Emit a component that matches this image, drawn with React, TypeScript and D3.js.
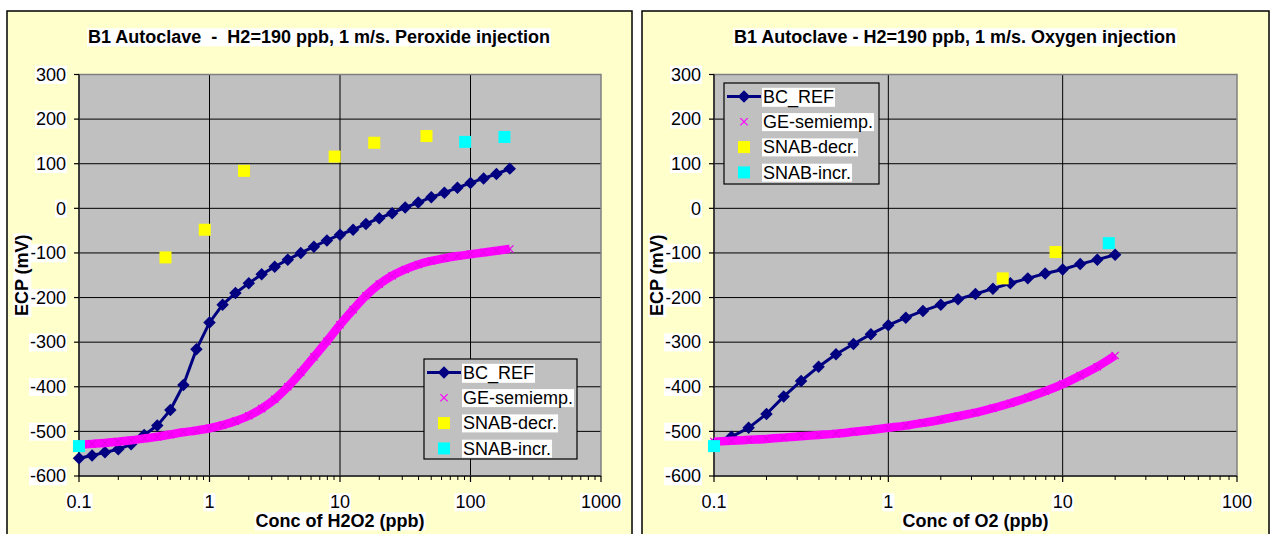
import React, { useEffect, useRef } from 'react';
import * as d3 from 'd3';

// ---------- data ----------
const yTicks = [300, 200, 100, 0, -100, -200, -300, -400, -500, -600];
const h2o2TickLabels = [0.1, 1, 10, 100, 1000];
const o2TickLabels = [0.1, 1, 10, 100];
const seriesNames = ['BC_REF', 'GE-semiemp.', 'SNAB-decr.', 'SNAB-incr.'];

const h2o2Conc = [0.1, 0.126, 0.158, 0.2, 0.251, 0.316, 0.398, 0.501, 0.631, 0.794, 1, 1.26, 1.58, 2, 2.51, 3.16, 3.98, 5.01, 6.31, 7.94, 10, 12.6, 15.8, 20, 25.1, 31.6, 39.8, 50.1, 63.1, 79.4, 100, 126, 158, 200];
const h2o2BcRef = [-560, -554, -547, -540, -529, -508, -487, -452, -396, -316, -256, -216, -190, -168, -148, -131, -115, -100, -86, -72, -59, -48, -35, -22, -11, 2, 13, 25, 35, 46, 57, 67, 77, 89];
const h2o2Ge = [-530, -528, -526, -523, -520, -516, -512, -507, -502, -498, -493, -486, -477, -465, -449, -428, -400, -368, -333, -298, -261, -227, -196, -170, -151, -137, -126, -118, -112, -107, -103, -99, -95, -91];
const h2o2DecrX = [0.46, 0.92, 1.84, 9.1, 18.3, 46];
const h2o2DecrY = [-110, -48, 84, 116, 147, 162];
const h2o2IncrX = [0.1, 91, 182];
const h2o2IncrY = [-533, 149, 160];

const o2Conc = [0.1, 0.126, 0.158, 0.2, 0.251, 0.316, 0.398, 0.501, 0.631, 0.794, 1, 1.26, 1.58, 2, 2.51, 3.16, 3.98, 5.01, 6.31, 7.94, 10, 12.6, 15.8, 20];
const o2BcRef = [-528, -512, -492, -461, -422, -387, -355, -327, -304, -282, -262, -245, -230, -216, -204, -192, -180, -168, -157, -146, -137, -125, -115, -104];
const o2Ge = [-523, -521, -519, -517, -514, -511, -508, -505, -501, -497, -492, -487, -481, -474, -466, -458, -448, -437, -424, -410, -394, -375, -355, -330];
const o2DecrX = [4.53, 9.1];
const o2DecrY = [-157, -98];
const o2IncrX = [0.1, 18.4];
const o2IncrY = [-533, -78];

// ---------- styling / layout ----------
const FONT = "'Liberation Sans', Arial, Helvetica, sans-serif";
const FS = 18;
const NAVY = '#000080';
const MAGENTA = '#FF00FF';
const YELLOW = '#FFFF00';
const CYAN = '#00FFFF';

type Cfg = {
  panel: [number, number, number, number];
  plot: { left: number; right: number; top: number; bottom: number };
  xDomain: [number, number];
  xLabels: number[];
  title: string;
  xTitle: string;
  legend: { x: number; y: number; w: number; h: number };
  conc: number[];
  bc: number[];
  ge: number[];
  decrX: number[];
  decrY: number[];
  incrX: number[];
  incrY: number[];
};

const leftCfg: Cfg = {
  panel: [7, 11, 625, 535],
  plot: { left: 79, right: 601, top: 74.5, bottom: 476 },
  xDomain: [0.1, 1000],
  xLabels: h2o2TickLabels,
  title: 'B1 Autoclave  -  H2=190 ppb, 1 m/s. Peroxide injection',
  xTitle: 'Conc of H2O2 (ppb)',
  legend: { x: 424, y: 359, w: 153, h: 100 },
  conc: h2o2Conc,
  bc: h2o2BcRef,
  ge: h2o2Ge,
  decrX: h2o2DecrX,
  decrY: h2o2DecrY,
  incrX: h2o2IncrX,
  incrY: h2o2IncrY,
};

const rightCfg: Cfg = {
  panel: [642, 11, 627, 535],
  plot: { left: 714, right: 1237, top: 74.5, bottom: 476 },
  xDomain: [0.1, 100],
  xLabels: o2TickLabels,
  title: 'B1 Autoclave - H2=190 ppb, 1 m/s. Oxygen injection',
  xTitle: 'Conc of O2 (ppb)',
  legend: { x: 724, y: 83, w: 155, h: 101 },
  conc: o2Conc,
  bc: o2BcRef,
  ge: o2Ge,
  decrX: o2DecrX,
  decrY: o2DecrY,
  incrX: o2IncrX,
  incrY: o2IncrY,
};

function label(parent: any, text: string, x: number, y: number, anchor: string, bold = false) {
  const t = parent
    .append('text')
    .attr('x', x)
    .attr('y', y)
    .attr('dy', '0.35em')
    .attr('text-anchor', anchor)
    .attr('font-family', FONT)
    .attr('font-size', FS)
    .attr('font-weight', bold ? 'bold' : 'normal')
    .attr('fill', '#000')
    .style('white-space', 'pre')
    .text(text);
  const node = t.node() as SVGTextElement;
  const bb = node.getBBox();
  const r = document.createElementNS('http://www.w3.org/2000/svg', 'rect');
  r.setAttribute('x', String(bb.x - 1));
  r.setAttribute('y', String(bb.y + 1));
  r.setAttribute('width', String(bb.width + 2));
  r.setAttribute('height', String(bb.height - 2));
  r.setAttribute('fill', '#fff');
  node.parentNode!.insertBefore(r, node);
  return t;
}

const diamond = d3.symbol(d3.symbolSquare, 78);
const square = d3.symbol(d3.symbolSquare, 144);
const cross = d3.symbol(d3.symbolX, 36);

function drawPanel(svg: any, c: Cfg) {
  const g = svg.append('g');
  const [px, py, pw, ph] = c.panel;
  g.append('rect').attr('x', px).attr('y', py).attr('width', pw).attr('height', ph)
    .attr('fill', '#FFFFCC').attr('stroke', '#000').attr('stroke-width', 1.5);

  const P = c.plot;
  const x = d3.scaleLog().domain(c.xDomain).range([P.left, P.right]);
  const y = d3.scaleLinear().domain([-600, 300]).range([P.bottom, P.top]);

  g.append('rect').attr('x', P.left).attr('y', P.top).attr('width', P.right - P.left)
    .attr('height', P.bottom - P.top).attr('fill', '#C0C0C0');

  // gridlines
  g.append('g').selectAll('line').data(yTicks).join('line')
    .attr('x1', P.left).attr('x2', P.right)
    .attr('y1', (d: number) => y(d)).attr('y2', (d: number) => y(d))
    .attr('stroke', '#000').attr('stroke-width', 1);
  g.append('g').selectAll('line').data(c.xLabels.slice(1, -1)).join('line')
    .attr('x1', (d: number) => x(d)).attr('x2', (d: number) => x(d))
    .attr('y1', P.top).attr('y2', P.bottom)
    .attr('stroke', '#000').attr('stroke-width', 1);

  // plot border
  g.append('rect').attr('x', P.left).attr('y', P.top).attr('width', P.right - P.left)
    .attr('height', P.bottom - P.top).attr('fill', 'none').attr('stroke', '#808080').attr('stroke-width', 1.5);

  // axes
  g.append('line').attr('x1', P.left).attr('x2', P.left).attr('y1', P.top).attr('y2', P.bottom)
    .attr('stroke', '#000').attr('stroke-width', 1.2);
  g.append('line').attr('x1', P.left).attr('x2', P.right).attr('y1', P.bottom).attr('y2', P.bottom)
    .attr('stroke', '#000').attr('stroke-width', 1.2);

  // y ticks
  g.append('g').selectAll('line').data(yTicks).join('line')
    .attr('x1', P.left - 5).attr('x2', P.left)
    .attr('y1', (d: number) => y(d)).attr('y2', (d: number) => y(d))
    .attr('stroke', '#000').attr('stroke-width', 1.2);
  // x ticks (major + minor)
  const minor = x.ticks().filter((d: number) => !c.xLabels.some((m) => Math.abs(m - d) < 1e-9));
  g.append('g').selectAll('line').data(minor).join('line')
    .attr('x1', (d: number) => x(d)).attr('x2', (d: number) => x(d))
    .attr('y1', P.bottom).attr('y2', P.bottom + 4)
    .attr('stroke', '#000').attr('stroke-width', 1);
  g.append('g').selectAll('line').data(c.xLabels).join('line')
    .attr('x1', (d: number) => x(d)).attr('x2', (d: number) => x(d))
    .attr('y1', P.bottom).attr('y2', P.bottom + 6)
    .attr('stroke', '#000').attr('stroke-width', 1.2);

  // tick labels
  yTicks.forEach((d) => label(g, String(d), P.left - 13, y(d), 'end'));
  c.xLabels.forEach((d) => label(g, String(d), x(d), 502, 'middle'));

  // titles
  label(g, c.title, px + pw / 2 - 0.5, 37, 'middle', true);
  label(g, c.xTitle, (P.left + P.right) / 2, 521, 'middle', true);
  const yl = g.append('g').attr('transform', `translate(${px + 15},${(P.top + P.bottom) / 2}) rotate(-90)`);
  label(yl, 'ECP (mV)', 0, 0, 'middle', true);

  // series
  const series = g.append('g');
  const bcPts = c.conc.map((v, i) => [v, c.bc[i]] as [number, number]);
  const gePts = c.conc.map((v, i) => [v, c.ge[i]] as [number, number]);
  const line = d3.line<[number, number]>().x((d) => x(d[0])).y((d) => y(d[1]));
  series.append('path').attr('d', line(bcPts)).attr('fill', 'none')
    .attr('stroke', NAVY).attr('stroke-width', 3).attr('stroke-linejoin', 'round');
  series.append('g').selectAll('path').data(bcPts).join('path')
    .attr('d', diamond as any)
    .attr('transform', (d: [number, number]) => `translate(${x(d[0])},${y(d[1])}) rotate(45)`)
    .attr('fill', NAVY);

  const band = d3.line<[number, number]>().x((d) => x(d[0])).y((d) => y(d[1])).curve(d3.curveMonotoneX);
  series.append('path').attr('d', band(gePts)).attr('fill', 'none')
    .attr('stroke', MAGENTA).attr('stroke-width', 8.5).attr('stroke-linecap', 'butt');
  series.append('g').selectAll('path').data(gePts).join('path')
    .attr('d', cross as any)
    .attr('transform', (d: [number, number]) => `translate(${x(d[0])},${y(d[1])})`)
    .attr('fill', 'none').attr('stroke', '#E800E8').attr('stroke-width', 1.2);

  const decr = c.decrX.map((v, i) => [v, c.decrY[i]] as [number, number]);
  const incr = c.incrX.map((v, i) => [v, c.incrY[i]] as [number, number]);
  series.append('g').selectAll('path').data(decr).join('path')
    .attr('d', square as any)
    .attr('transform', (d: [number, number]) => `translate(${x(d[0])},${y(d[1])})`)
    .attr('fill', YELLOW);
  series.append('g').selectAll('path').data(incr).join('path')
    .attr('d', square as any)
    .attr('transform', (d: [number, number]) => `translate(${x(d[0])},${y(d[1])})`)
    .attr('fill', CYAN);

  // legend
  const L = c.legend;
  const lg = g.append('g');
  lg.append('rect').attr('x', L.x).attr('y', L.y).attr('width', L.w).attr('height', L.h)
    .attr('fill', '#C0C0C0').attr('stroke', '#000').attr('stroke-width', 1.2);
  const rowY = (i: number) => L.y + 13.5 + i * 25.3;
  const mx = L.x + 20;
  lg.append('line').attr('x1', L.x + 3).attr('x2', L.x + 37).attr('y1', rowY(0)).attr('y2', rowY(0))
    .attr('stroke', NAVY).attr('stroke-width', 3);
  lg.append('path').attr('d', diamond as any).attr('transform', `translate(${mx},${rowY(0)}) rotate(45)`).attr('fill', NAVY);
  lg.append('path').attr('d', cross as any).attr('transform', `translate(${mx},${rowY(1)})`)
    .attr('fill', 'none').attr('stroke', MAGENTA).attr('stroke-width', 1.2);
  lg.append('path').attr('d', square as any).attr('transform', `translate(${mx},${rowY(2)})`).attr('fill', YELLOW);
  lg.append('path').attr('d', square as any).attr('transform', `translate(${mx},${rowY(3)})`).attr('fill', CYAN);
  seriesNames.forEach((n, i) => label(lg, n, L.x + 39, rowY(i), 'start'));
}

export default function App() {
  const ref = useRef<SVGSVGElement>(null);
  useEffect(() => {
    const svg = d3.select(ref.current);
    svg.selectAll('*').remove();
    svg.append('rect').attr('width', 1272).attr('height', 534).attr('fill', '#fff');
    drawPanel(svg, leftCfg);
    drawPanel(svg, rightCfg);
  }, []);
  return (
    <div style={{ position: 'absolute', left: 0, top: 0 }}>
      <svg ref={ref} width={1272} height={534} style={{ display: 'block' }} />
    </div>
  );
}
